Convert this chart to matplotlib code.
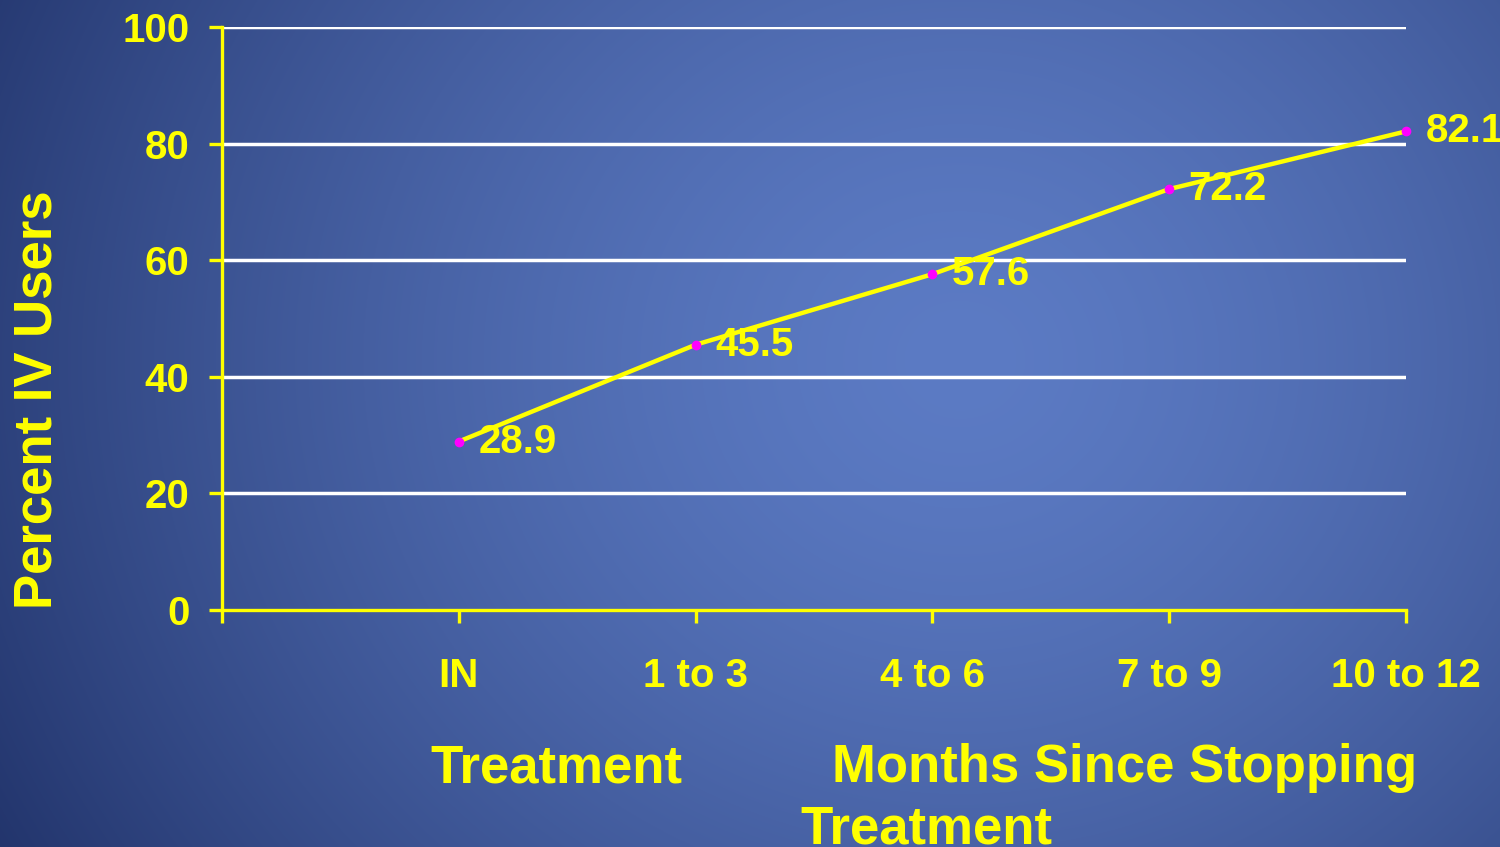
import numpy as np
import matplotlib
matplotlib.use("Agg")
import matplotlib.pyplot as plt

# Percent of IV users by months since stopping treatment
categories = ["IN", "1 to 3", "4 to 6", "7 to 9", "10 to 12"]
percent_iv = [28.9, 45.5, 57.6, 72.2, 82.1]
y_ticks = [0, 20, 40, 60, 80, 100]

YELLOW = "#ffff00"
MAGENTA = "#ff00ff"
W, H = 1500, 847

plt.rcParams["font.family"] = ["Liberation Sans", "DejaVu Sans"]
plt.rcParams["font.weight"] = "bold"

fig = plt.figure(figsize=(W / 100, H / 100), dpi=100)

# blue slide background, lighter towards the middle
yy, xx = np.mgrid[0:H, 0:W]
d = np.sqrt((xx - 960.0) ** 2 + ((yy - 360.0) * 1.1) ** 2)
f = np.clip(d / 1120.0, 0, 1) ** 1.5
centre = np.array([92, 123, 196]) / 255
edge = np.array([33, 51, 106]) / 255
img = centre[None, None, :] * (1 - f[..., None]) + edge[None, None, :] * f[..., None]
bg = fig.add_axes([0, 0, 1, 1], zorder=0)
bg.imshow(img, aspect="auto", extent=[0, 1, 0, 1])
bg.axis("off")

ax = fig.add_axes([222 / W, 1 - 610 / H, (1406 - 222) / W, (610 - 27) / H], zorder=1)
ax.set_facecolor("none")
x = np.arange(1, len(categories) + 1)

for v in y_ticks[1:]:
    ax.axhline(v, color="white", lw=2.5, zorder=1)

ax.plot(x, percent_iv, color=YELLOW, lw=3.2, zorder=3, clip_on=False)
ax.plot(x, percent_iv, "o", color=MAGENTA, ms=7, mew=0, zorder=4, clip_on=False)
for xi, v in zip(x, percent_iv):
    ax.annotate(f"{v}", (xi, v), xytext=(14, 0), textcoords="offset points",
                ha="left", va="center", color=YELLOW, fontsize=29,
                fontweight="bold", annotation_clip=False, zorder=5)

ax.set_xlim(0, len(categories))
ax.set_ylim(0, 100)
ax.set_xticks(np.arange(0, len(categories) + 1))
ax.set_xticklabels([""] + categories)
ax.set_yticks(y_ticks)

for s in ["top", "right"]:
    ax.spines[s].set_visible(False)
for s in ["left", "bottom"]:
    ax.spines[s].set_color(YELLOW)
    ax.spines[s].set_linewidth(2.4)

ax.tick_params(axis="both", colors=YELLOW, width=2.4, labelsize=29)
ax.tick_params(axis="y", length=9.5, pad=14)
ax.tick_params(axis="x", length=9, pad=25)
for lbl in ax.get_xticklabels() + ax.get_yticklabels():
    lbl.set_fontweight("bold")

# axis titles
fig.text(38 / W, 1 - 400 / H, "Percent IV Users", rotation=90, ha="center",
         va="center", color=YELLOW, fontsize=38, fontweight="bold")
fig.text(430 / W, 1 - 782 / H, "Treatment", ha="left", va="baseline",
         color=YELLOW, fontsize=38, fontweight="bold")
fig.text(832 / W, 1 - 782 / H, "Months Since Stopping", ha="left",
         va="baseline", color=YELLOW, fontsize=38, fontweight="bold")
fig.text(800 / W, 1 - 843 / H, "Treatment", ha="left", va="baseline",
         color=YELLOW, fontsize=38, fontweight="bold")

fig.savefig("out.png", dpi=100)
